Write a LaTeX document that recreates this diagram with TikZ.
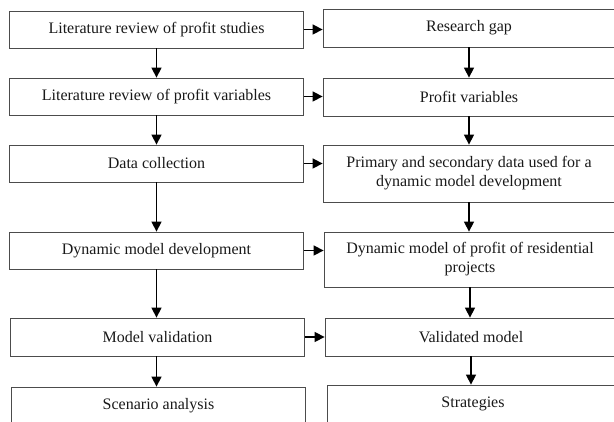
\documentclass[tikz,border=0pt]{standalone}
\usepackage{fontspec}
\setmainfont{Liberation Serif}
\usetikzlibrary{arrows.meta,positioning}
\begin{document}
\begin{tikzpicture}[x=1pt,y=-1pt,
  box/.style={draw=black!70, line width=0.8pt, rectangle, inner sep=0pt, align=center,
    font=\fontsize{16}{19}\selectfont, text=black!90},
  lbox/.style={box, minimum width=294pt, minimum height=37pt},
  rbox/.style={box, minimum width=292pt, minimum height=38pt},
  arr/.style={line width=1.5pt, -{Triangle[length=10pt,width=10pt]}}
]
\useasboundingbox (0,0) rectangle (614,422);
\clip (0,0) rectangle (614,422);
% left column
\node[lbox] (L1) at (156.5,29.5) {Literature review of profit studies};
\node[lbox] (L2) at (156.5,96.5) {Literature review of profit variables};
\node[lbox] (L3) at (156.5,163.5) {Data collection};
\node[lbox] (L4) at (156.5,250.5) {Dynamic model development};
\node[lbox, minimum height=38pt] (L5) at (157.5,337) {Model validation};
\node[lbox] (L6) at (158.5,405.5) {Scenario analysis};
% right column
\node[rbox] (R1) at (469,28) {Research gap};
\node[rbox] (R2) at (469,97) {Profit variables};
\node[rbox, minimum height=57pt] (R3) at (469,173.5) {Primary and secondary data used for a\\dynamic model development};
\node[rbox, minimum height=55pt] (R4) at (470,259.5) {Dynamic model of profit of residential\\projects};
\node[rbox] (R5) at (471,337) {Validated model};
\node[rbox] (R6) at (473,404) {Strategies};
% vertical arrows
\draw[arr] (L1.south) -- (L2.north);
\draw[arr] (L2.south) -- (L3.north);
\draw[arr] (L3.south) -- (L3.south |- L4.north);
\draw[arr] (L4.south) -- (L4.south |- L5.north);
\draw[arr] (L5.south -| L4.south) -- (L4.south |- L6.north);
\draw[arr] (R1.south) -- (R2.north);
\draw[arr] (R2.south) -- (R2.south |- R3.north);
\draw[arr] (R3.south) -- (R3.south |- R4.north);
\draw[arr] (R4.south) -- (R4.south |- R5.north);
\draw[arr] (R5.south) -- (R5.south |- R6.north);
% horizontal arrows
\draw[arr] (L1.east) -- (L1.east -| R1.west);
\draw[arr] (L2.east) -- (L2.east -| R2.west);
\draw[arr] (L3.east) -- (L3.east -| R3.west);
\draw[arr] (L4.east) -- (L4.east -| R4.west);
\draw[arr] (L5.east) -- (L5.east -| R5.west);
\end{tikzpicture}
\end{document}
